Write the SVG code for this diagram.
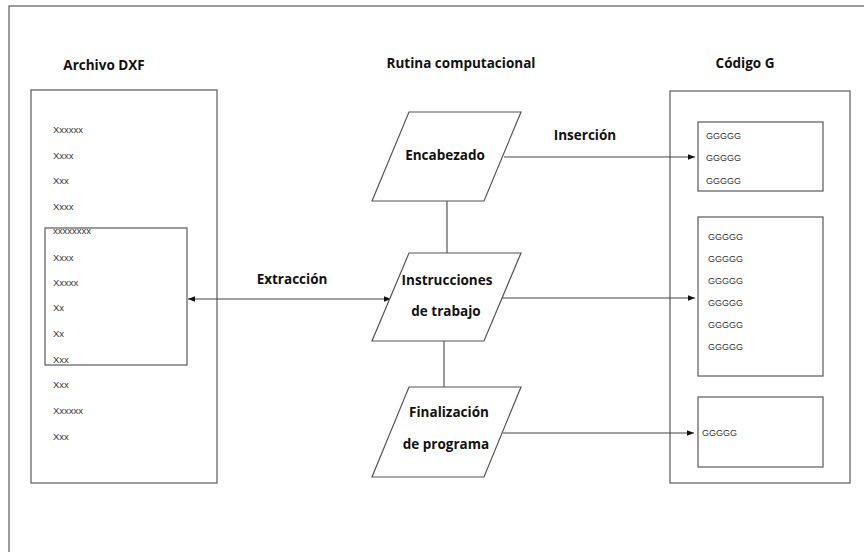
<svg xmlns="http://www.w3.org/2000/svg" width="864" height="552" viewBox="0 0 864 552">
<defs>
<marker id="arr" viewBox="0 0 10 10" refX="10" refY="5" markerWidth="7" markerHeight="7" orient="auto-start-reverse" markerUnits="userSpaceOnUse"><path d="M0,1 L10,5 L0,9 z" fill="#111"/></marker>
<clipPath id="c2"><rect x="45" y="229" width="142" height="137"/></clipPath>
</defs>
<style>
.box{fill:none;stroke:#666;stroke-width:1.3}
.shape{fill:#fff;stroke:#555;stroke-width:1.2}
.ln{fill:none;stroke:#444;stroke-width:1.1}
.title{font-family:"Open Sans","Liberation Sans",sans-serif;font-weight:bold;font-size:13.5px;fill:#111}
.lbl{font-family:"Open Sans","Liberation Sans",sans-serif;font-weight:bold;font-size:13.5px;fill:#111;text-anchor:middle}
.sm{font-family:"Liberation Sans",sans-serif;font-size:9.5px;fill:#333}
.g{font-family:"Liberation Sans",sans-serif;font-size:9px;fill:#333}
</style>
<rect x="0" y="0" width="864" height="552" fill="#fff"/>
<rect x="9" y="6" width="870" height="560" class="box"/>

<g id="titles">
<text class="title" x="104" y="70" text-anchor="middle">Archivo DXF</text>
<text class="title" x="461" y="68" text-anchor="middle">Rutina computacional</text>
<text class="title" x="745" y="68" text-anchor="middle">Código G</text>
</g>

<g id="dxf">
<rect x="31" y="90" width="186" height="393" class="box"/>
<rect x="45" y="228" width="142" height="137" class="box"/>
<text class="sm" x="53" y="133">Xxxxxx</text>
<text class="sm" x="53" y="159">Xxxx</text>
<text class="sm" x="53" y="184">Xxx</text>
<text class="sm" x="53" y="210">Xxxx</text>
<text class="sm" x="53" y="234" clip-path="url(#c2)">xxxxxxxx</text>
<text class="sm" x="53" y="261">Xxxx</text>
<text class="sm" x="53" y="286">Xxxxx</text>
<text class="sm" x="53" y="311">Xx</text>
<text class="sm" x="53" y="337">Xx</text>
<text class="sm" x="53" y="363">Xxx</text>
<text class="sm" x="53" y="388">Xxx</text>
<text class="sm" x="53" y="414">Xxxxxx</text>
<text class="sm" x="53" y="440">Xxx</text>
</g>

<g id="gcode">
<rect x="670" y="91" width="180" height="392" class="box"/>
<rect x="698" y="122" width="125" height="69" class="box"/>
<text class="g" x="706" y="139">GGGGG</text>
<text class="g" x="706" y="161">GGGGG</text>
<text class="g" x="706" y="184">GGGGG</text>
<rect x="698" y="217" width="125" height="159" class="box"/>
<text class="g" x="708" y="240">GGGGG</text>
<text class="g" x="708" y="262">GGGGG</text>
<text class="g" x="708" y="284">GGGGG</text>
<text class="g" x="708" y="306">GGGGG</text>
<text class="g" x="708" y="328">GGGGG</text>
<text class="g" x="708" y="350">GGGGG</text>
<rect x="698" y="397" width="125" height="70" class="box"/>
<text class="g" x="702" y="436">GGGGG</text>
</g>

<g id="connectors">
<line x1="447" y1="201" x2="447" y2="253" class="ln"/>
<line x1="444" y1="341" x2="444" y2="387" class="ln"/>
<line x1="504" y1="157" x2="695" y2="157" class="ln" marker-end="url(#arr)"/>
<line x1="502" y1="298" x2="695" y2="298" class="ln" marker-end="url(#arr)"/>
<line x1="503" y1="433" x2="694" y2="433" class="ln" marker-end="url(#arr)"/>
<line x1="188" y1="299" x2="391" y2="299" class="ln" marker-start="url(#arr)" marker-end="url(#arr)"/>
<text class="lbl" x="585" y="140">Inserción</text>
<text class="lbl" x="292" y="284">Extracción</text>
</g>

<g id="encabezado">
<polygon points="409,112 521,112 484,201 372,201" class="shape"/>
<text class="lbl" x="445" y="160">Encabezado</text>
</g>
<g id="instrucciones">
<polygon points="409,253 521,253 484,341 372,341" class="shape"/>
<text class="lbl" x="447" y="285">Instrucciones</text>
<text class="lbl" x="446" y="316">de trabajo</text>
</g>
<g id="finalizacion">
<polygon points="409,387 521,387 484,477 372,477" class="shape"/>
<text class="lbl" x="449" y="417">Finalización</text>
<text class="lbl" x="446" y="449">de programa</text>
</g>
</svg>
